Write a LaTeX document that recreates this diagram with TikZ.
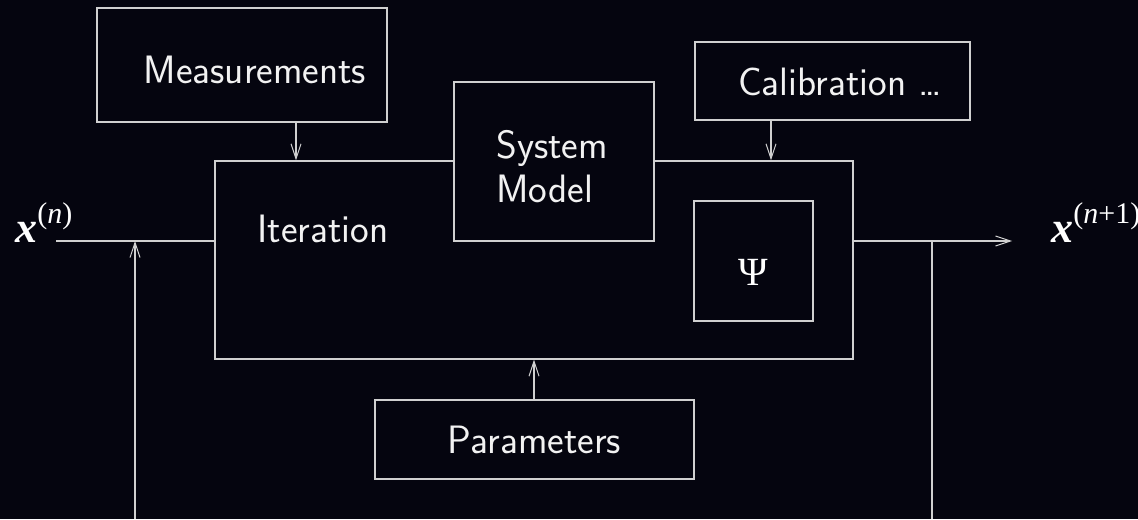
\documentclass[tikz,border=0pt]{standalone}
\usepackage{fontspec}
\usetikzlibrary{arrows.meta}
\newfontfamily\tms{Liberation Serif}
\definecolor{bg}{HTML}{05050F}
\definecolor{ln}{HTML}{D0D0D0}
\begin{document}
\begin{tikzpicture}[x=0.5pt,y=-0.5pt,
  box/.style={draw=ln,line width=0.6pt,fill=bg,inner sep=0pt},
  lbl/.style={text=white!95!black,font=\sffamily\fontsize{19.8}{22}\selectfont,inner sep=0pt},
  wire/.style={draw=ln,line width=0.6pt},
  arr/.style={wire,-{Straight Barb[length=7.5pt,width=5pt,line width=0.5pt]}}]
\fill[bg] (0,0) rectangle (1138,519);
\useasboundingbox (0,0) rectangle (1138,519);
% boxes
\node[box,minimum width=145pt,minimum height=57pt] (meas) at (242,65) {};
\node[box,minimum width=137.5pt,minimum height=39pt] (calib) at (832.5,81) {};
\node[box,minimum width=319pt,minimum height=99pt] (iter) at (534,260) {};
\node[box,minimum width=100pt,minimum height=79.5pt] (sysm) at (554,161.5) {};
\node[box,minimum width=59.5pt,minimum height=60pt] (psi) at (753.5,261) {};
\node[box,minimum width=159.5pt,minimum height=39.5pt] (param) at (534.5,439.5) {};
% labels
\node[lbl] (measl) at (255,70) {Measurements};
\node[lbl] (calibl) at (840,82) {Calibration \dots};
\node[lbl,align=left,anchor=base west] (sysml) at (496,202) {System\\Model};
\node[lbl,anchor=base west] (iterl) at (257,242) {Iteration};
\node[lbl] (paraml) at (534.5,440) {Parameters};
\node[text=white,inner sep=0pt,font=\tms\fontsize{20}{22}\selectfont] (psil) at (753.5,272) {Ψ};
\node[text=white,inner sep=0pt,anchor=base west,font=\tms\fontsize{22}{24}\selectfont] (xin) at (15,242)
  {\textbf{\textit{x}}\raisebox{0.42em}{\fontsize{15}{16}\selectfont(\textit{n})}};
\node[text=white,inner sep=0pt,anchor=base west,font=\tms\fontsize{22}{24}\selectfont] (xout) at (1051,242)
  {\textbf{\textit{x}}\raisebox{0.42em}{\fontsize{15}{16}\selectfont(\textit{n}+1)}};
% coordinates
\coordinate (mx) at (296,0);
\coordinate (cx) at (771,0);
\coordinate (px) at (534,0);
\coordinate (inL) at (56,241);
\coordinate (outR) at (1012,241);
\coordinate (inB) at (135,519);
\coordinate (outB) at (932,519);
% connectors
\draw[arr] (meas.south -| mx) -- (iter.north -| mx);
\draw[arr] (calib.south -| cx) -- (iter.north -| cx);
\draw[arr] (param.north -| px) -- (iter.south -| px);
\draw[wire] (inL) -- (inL -| iter.west);
\draw[arr] (inL -| iter.east) -- (outR);
\draw[arr] (inB) -- (inB |- inL);
\draw[wire] (outB) -- (outB |- inL);
\end{tikzpicture}
\end{document}
